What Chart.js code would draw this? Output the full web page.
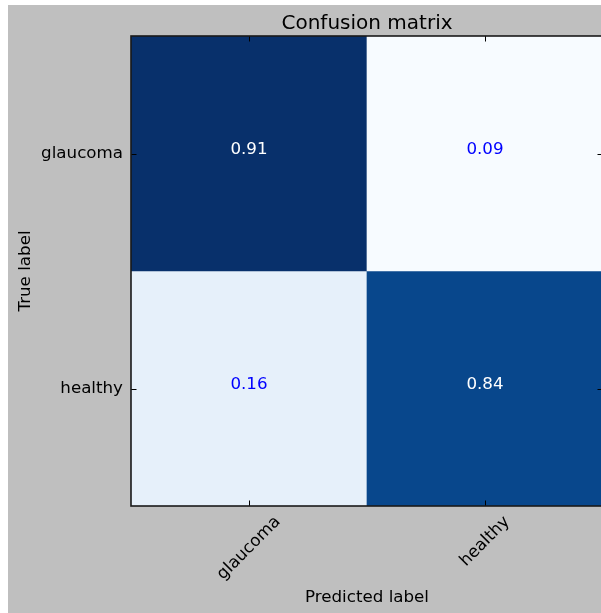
<!DOCTYPE html>
<html>
<head>
<meta charset="utf-8">
<script src="https://cdn.jsdelivr.net/npm/chart.js@4.4.1/dist/chart.umd.min.js"></script>
<style>
  html, body { margin: 0; padding: 0; background: #ffffff; overflow: hidden; width: 601px; height: 613px; }
  #cm { position: absolute; left: 8px; top: 5px; background: #bfbfbf; }
</style>
</head>
<body>
<canvas id="cm" width="598" height="608"></canvas>
<script>
// Confusion matrix (row-normalised): rows = true label, columns = predicted label
const rowLabels = ['glaucoma', 'healthy'];
const colLabels = ['glaucoma', 'healthy'];
const glaucomaRow = [0.91, 0.09];
const healthyRow = [0.16, 0.84];
const matrix = [glaucomaRow, healthyRow];

// matplotlib "Blues" colour map stops
const BLUES = ['#f7fbff', '#deebf7', '#c6dbef', '#9ecae1', '#6baed6', '#4292c6', '#2171b5', '#08519c', '#08306b'];
function hexToRgb(h) { return [1, 3, 5].map(i => parseInt(h.substr(i, 2), 16)); }
function blues(t) {
  t = Math.max(0, Math.min(1, t));
  const pos = t * (BLUES.length - 1);
  const i = Math.min(Math.floor(pos), BLUES.length - 2);
  const f = pos - i;
  const a = hexToRgb(BLUES[i]), b = hexToRgb(BLUES[i + 1]);
  const c = a.map((v, k) => Math.round(v + (b[k] - v) * f));
  return `rgb(${c[0]},${c[1]},${c[2]})`;
}
const flat = matrix.flat();
const vmin = Math.min(...flat), vmax = Math.max(...flat);
const thresh = vmax / 2;
const norm = v => (v - vmin) / (vmax - vmin);

const FONT = 'DejaVu Sans';
const LABEL_SIZE = 16.7;
Chart.defaults.font.family = FONT;
Chart.defaults.color = '#000000';

// Each true-label row is a floating bar [i, i+1] spanning both predicted columns
const datasets = rowLabels.map((r, i) => ({
  label: r,
  data: colLabels.map(() => [i, i + 1]),
  backgroundColor: matrix[i].map(v => blues(norm(v))),
  borderWidth: 0,
  grouped: false,
  barPercentage: 1,
  categoryPercentage: 1
}));

// Frame, inward tick marks, cell values and rotated column labels
const matrixDecor = {
  id: 'matrixDecor',
  afterDatasetsDraw(chart) {
    const { ctx, chartArea: a, scales: { x, y } } = chart;
    ctx.save();
    const xt = colLabels.map((_, j) => x.getPixelForValue(j));
    const yt = rowLabels.map((_, i) => y.getPixelForValue(i + 0.5));

    // cell values
    ctx.font = `${LABEL_SIZE}px "${FONT}"`;
    ctx.textAlign = 'center';
    ctx.textBaseline = 'alphabetic';
    matrix.forEach((row, i) => row.forEach((v, j) => {
      ctx.fillStyle = v > thresh ? '#ffffff' : '#0000ff';
      ctx.fillText(v.toFixed(2), xt[j], yt[i]);
    }));

    // tick marks pointing into the axes
    const tl = 5.5;
    ctx.strokeStyle = '#000000';
    ctx.lineWidth = 1;
    ctx.beginPath();
    xt.forEach(px => {
      const p = Math.round(px) + 0.5;
      ctx.moveTo(p, a.top); ctx.lineTo(p, a.top + tl);
      ctx.moveTo(p, a.bottom); ctx.lineTo(p, a.bottom - tl);
    });
    yt.forEach(py => {
      const p = Math.round(py) + 0.5;
      ctx.moveTo(a.left, p); ctx.lineTo(a.left + tl, p);
      ctx.moveTo(a.right, p); ctx.lineTo(a.right - tl, p);
    });
    ctx.stroke();

    // axes frame
    ctx.lineWidth = 1.6;
    ctx.strokeStyle = '#1a1a1a';
    ctx.strokeRect(a.left, a.top, a.right - a.left, a.bottom - a.top);

    // column labels rotated 45°, centred under each tick
    ctx.fillStyle = '#000000';
    ctx.textAlign = 'center';
    ctx.textBaseline = 'middle';
    colLabels.forEach((lab, j) => {
      const w = ctx.measureText(lab).width;
      const half = (w + 12) / (2 * Math.SQRT2);
      ctx.save();
      ctx.translate(xt[j], a.bottom + 9 + half);
      ctx.rotate(-Math.PI / 4);
      ctx.fillText(lab, 0, 0);
      ctx.restore();
    });
    ctx.restore();
  }
};

new Chart(document.getElementById('cm'), {
  type: 'bar',
  data: { labels: colLabels, datasets },
  plugins: [matrixDecor],
  options: {
    responsive: false,
    animation: false,
    events: [],
    layout: { padding: { left: 0, top: 0, right: 3, bottom: 0 } },
    plugins: {
      legend: { display: false },
      tooltip: { enabled: false },
      title: {
        display: true,
        text: 'Confusion matrix',
        fullSize: false,
        color: '#000000',
        font: { family: FONT, size: 20, weight: 'normal' },
        padding: { top: 7, bottom: 0 }
      }
    },
    scales: {
      x: {
        type: 'category',
        offset: true,
        grid: { display: false, drawTicks: false },
        border: { display: false },
        ticks: { display: false },
        title: {
          display: true,
          text: 'Predicted label',
          color: '#000000',
          font: { family: FONT, size: LABEL_SIZE },
          padding: { top: 0, bottom: 5 }
        },
        afterFit(s) { s.height = 107; }
      },
      y: {
        type: 'linear',
        min: 0,
        max: rowLabels.length,
        reverse: true,
        grid: { display: false, drawTicks: false },
        border: { display: false },
        afterBuildTicks(s) { s.ticks = rowLabels.map((_, i) => ({ value: i + 0.5 })); },
        ticks: {
          autoSkip: false,
          padding: 8,
          color: '#000000',
          font: { family: FONT, size: LABEL_SIZE },
          callback: (v, idx) => rowLabels[idx]
        },
        title: {
          display: true,
          text: 'True label',
          color: '#000000',
          font: { family: FONT, size: LABEL_SIZE },
          padding: { top: 8, bottom: 0 }
        },
        afterFit(s) { s.width = 123; }
      }
    }
  }
});
</script>
</body>
</html>
